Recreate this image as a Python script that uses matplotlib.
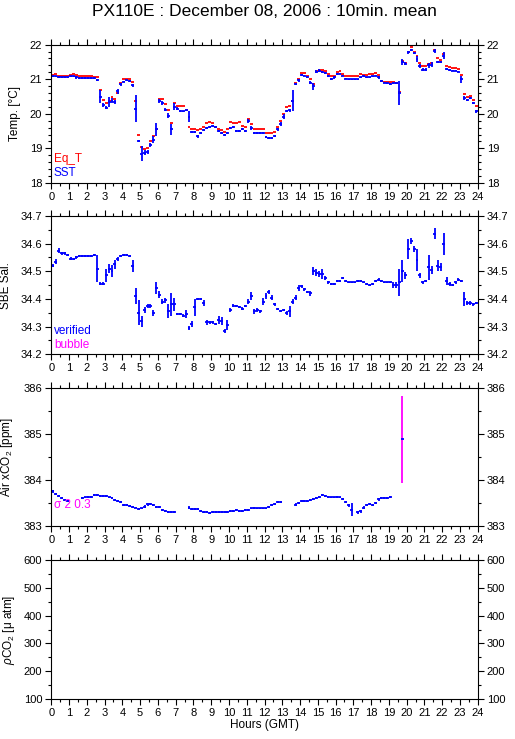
import numpy as np
import matplotlib
matplotlib.use('Agg')
import matplotlib.pyplot as plt
from matplotlib.ticker import MultipleLocator

plt.rcParams['font.family'] = ['Liberation Sans', 'DejaVu Sans']
plt.rcParams['mathtext.fontset'] = 'custom'
plt.rcParams['mathtext.rm'] = 'Liberation Sans'
plt.rcParams['mathtext.it'] = 'Liberation Sans:italic'

# 10 minute means, 6 values per hour (hour 0 .. 23)
sst = [21.08, 21.08, 21.06, 21.05, 21.05, 21.05,
       21.08, 21.08, 21.05, 21.04, 21.04, 21.03,
       21.03, 21.03, 21.03, 20.97, 20.50, 20.25,
       20.18, 20.35, 20.38, 20.33, 20.65, 20.85,
       20.93, 20.97, 20.95, 20.82, 20.15, 19.22,
       18.85, 18.88, 18.90, 19.10, 19.25, 19.55,
       20.38, 20.32, 20.12, 19.95, 19.55, 20.20,
       20.15, 20.08, 20.07, 20.10, 19.92, 19.48,
       19.48, 19.35, 19.45, 19.52, 19.58, 19.62,
       19.65, 19.62, 19.50, 19.45, 19.40, 19.45,
       19.60, 19.62, 19.50, 19.50, 19.55, 19.50,
       19.80, 19.60, 19.45, 19.45, 19.45, 19.45,
       19.33, 19.30, 19.30, 19.35, 19.55, 19.70,
       19.92, 20.08, 20.10, 20.38, 20.85, 20.97,
       21.12, 21.10, 21.05, 20.90, 20.80, 21.22,
       21.25, 21.20, 21.18, 21.10, 21.00, 21.05,
       21.15, 21.16, 21.10, 21.02, 21.00, 21.00,
       21.00, 21.00, 21.05, 21.08, 21.05, 21.05,
       21.08, 21.10, 21.05, 20.95, 20.90, 20.88,
       20.85, 20.88, 20.88, 20.60, 21.50, 21.45,
       21.78, 21.85, 21.75, 21.58, 21.38, 21.28,
       21.28, 21.40, 21.42, 21.82, 21.50, 21.50,
       21.68, 21.30, 21.27, 21.25, 21.25, 21.22,
       21.00, 20.45, 20.40, 20.45, 20.30, 20.07]
sst_sd = [0.02, 0.02, 0.02, 0.02, 0.02, 0.02,
          0.02, 0.02, 0.03, 0.02, 0.02, 0.02,
          0.02, 0.02, 0.02, 0.03, 0.18, 0.05,
          0.04, 0.15, 0.08, 0.06, 0.08, 0.04,
          0.02, 0.02, 0.02, 0.05, 0.38, 0.03,
          0.22, 0.08, 0.06, 0.05, 0.10, 0.18,
          0.06, 0.06, 0.04, 0.06, 0.15, 0.10,
          0.05, 0.02, 0.02, 0.02, 0.15, 0.03,
          0.03, 0.04, 0.03, 0.03, 0.03, 0.02,
          0.02, 0.02, 0.03, 0.03, 0.03, 0.03,
          0.03, 0.02, 0.02, 0.02, 0.03, 0.02,
          0.06, 0.06, 0.02, 0.02, 0.02, 0.02,
          0.02, 0.02, 0.02, 0.03, 0.05, 0.05,
          0.06, 0.03, 0.05, 0.30, 0.03, 0.05,
          0.03, 0.02, 0.02, 0.04, 0.10, 0.04,
          0.04, 0.03, 0.03, 0.03, 0.03, 0.03,
          0.03, 0.02, 0.02, 0.02, 0.02, 0.02,
          0.02, 0.02, 0.02, 0.03, 0.02, 0.02,
          0.02, 0.02, 0.03, 0.03, 0.02, 0.02,
          0.03, 0.02, 0.02, 0.35, 0.08, 0.05,
          0.04, 0.03, 0.03, 0.08, 0.05, 0.03,
          0.03, 0.08, 0.08, 0.05, 0.03, 0.03,
          0.10, 0.03, 0.02, 0.02, 0.02, 0.02,
          0.10, 0.06, 0.03, 0.03, 0.03, 0.05]
eq_t = [21.12, 21.14, 21.10, 21.10, 21.10, 21.10,
        21.12, 21.14, 21.12, 21.10, 21.10, 21.10,
        21.10, 21.08, 21.07, 21.05, 20.68, 20.40,
        20.30, 20.38, 20.50, 20.42, 20.60, 20.90,
        21.02, 21.02, 21.02, 20.92, 20.38, 19.40,
        19.05, 18.98, 19.00, 19.20, 19.35, 19.55,
        20.42, 20.42, 20.28, 20.10, 19.72, 20.30,
        20.22, 20.22, 20.22, 20.12, 19.62, 19.55,
        19.55, 19.52, 19.55, 19.62, 19.72, 19.75,
        19.72, 19.62, 19.55, 19.52, 19.48, 19.55,
        19.75, 19.72, 19.72, 19.75, 19.65, 19.62,
        19.85, 19.70, 19.57, 19.57, 19.55, 19.55,
        19.45, 19.45, 19.45, 19.48, 19.62, 19.80,
        20.00, 20.20, 20.22, 20.38, 20.88, 21.02,
        21.18, 21.18, 21.10, 21.02, 20.85, 21.25,
        21.28, 21.26, 21.25, 21.16, 21.08, 21.10,
        21.22, 21.24, 21.14, 21.08, 21.08, 21.08,
        21.08, 21.10, 21.14, 21.12, 21.12, 21.15,
        21.16, 21.18, 21.12, 20.95, 20.92, 20.92,
        20.92, 20.92, 20.90, 20.62, 21.52, 21.48,
        21.80, 21.92, 21.80, 21.68, 21.48, 21.38,
        21.38, 21.45, 21.48, 21.85, 21.62, 21.55,
        21.72, 21.38, 21.36, 21.32, 21.32, 21.30,
        21.12, 20.58, 20.50, 20.52, 20.40, 20.22]

sal = [34.520, 34.535, 34.575, 34.565, 34.565, 34.560,
       34.545, 34.545, 34.550, 34.555, 34.555, 34.555,
       34.555, 34.555, 34.560, 34.510, 34.455, 34.455,
       34.485, 34.510, 34.500, 34.525, 34.545, 34.555,
       34.560, 34.560, 34.555, 34.520, 34.410, 34.350,
       34.320, 34.360, 34.375, 34.375, 34.350, 34.440,
       34.415, 34.390, 34.395, 34.355, 34.380, 34.380,
       34.345, 34.345, 34.340, 34.345, 34.295, 34.310,
       34.370, 34.400, 34.400, 34.385, 34.315, 34.315,
       34.315, 34.310, 34.325, 34.320, 34.285, 34.305,
       34.360, 34.375, 34.375, 34.370, 34.365, 34.375,
       34.390, 34.410, 34.355, 34.360, 34.355, 34.390,
       34.410, 34.425, 34.405, 34.380, 34.365, 34.355,
       34.360, 34.350, 34.355, 34.390, 34.405, 34.440,
       34.445, 34.435, 34.425, 34.420, 34.500, 34.495,
       34.490, 34.490, 34.475, 34.460, 34.455, 34.455,
       34.465, 34.465, 34.475, 34.465, 34.460, 34.460,
       34.460, 34.465, 34.465, 34.460, 34.455, 34.450,
       34.455, 34.465, 34.470, 34.465, 34.460, 34.460,
       34.460, 34.450, 34.450, 34.460, 34.500, 34.485,
       34.580, 34.610, 34.580, 34.540, 34.485, 34.460,
       34.465, 34.515, 34.505, 34.635, 34.520, 34.515,
       34.600, 34.465, 34.455, 34.450, 34.460, 34.470,
       34.465, 34.400, 34.385, 34.385, 34.380, 34.385]
sal_sd = [0.005, 0.008, 0.010, 0.005, 0.005, 0.004,
          0.005, 0.004, 0.004, 0.003, 0.003, 0.003,
          0.003, 0.003, 0.003, 0.050, 0.006, 0.006,
          0.025, 0.015, 0.022, 0.015, 0.008, 0.005,
          0.003, 0.003, 0.004, 0.022, 0.030, 0.045,
          0.020, 0.012, 0.008, 0.008, 0.010, 0.022,
          0.012, 0.010, 0.008, 0.025, 0.042, 0.025,
          0.004, 0.004, 0.005, 0.015, 0.006, 0.010,
          0.030, 0.005, 0.005, 0.010, 0.010, 0.006,
          0.005, 0.004, 0.015, 0.015, 0.008, 0.018,
          0.008, 0.005, 0.004, 0.004, 0.005, 0.004,
          0.010, 0.015, 0.008, 0.006, 0.005, 0.012,
          0.010, 0.006, 0.008, 0.006, 0.004, 0.004,
          0.004, 0.008, 0.020, 0.008, 0.010, 0.010,
          0.006, 0.005, 0.005, 0.010, 0.015, 0.012,
          0.012, 0.018, 0.008, 0.005, 0.004, 0.004,
          0.004, 0.004, 0.004, 0.004, 0.003, 0.003,
          0.003, 0.003, 0.003, 0.003, 0.004, 0.004,
          0.004, 0.004, 0.004, 0.004, 0.003, 0.003,
          0.003, 0.010, 0.010, 0.050, 0.040, 0.012,
          0.035, 0.010, 0.010, 0.040, 0.010, 0.005,
          0.005, 0.045, 0.015, 0.020, 0.020, 0.015,
          0.040, 0.015, 0.008, 0.005, 0.005, 0.005,
          0.005, 0.025, 0.006, 0.006, 0.004, 0.004]

nan = np.nan
air_co2 = [383.75, 383.70, 383.65, 383.60, 383.57, 383.55,
           nan, nan, nan, nan, 383.60, 383.62,
           383.63, 383.63, 383.67, 383.67, 383.65, 383.66,
           383.65, 383.62, 383.60, 383.57, 383.55, 383.52,
           383.45, 383.45, 383.44, 383.42, 383.40, 383.37,
           383.38, 383.42, 383.47, 383.47, 383.45, 383.42,
           383.42, 383.35, 383.32, 383.30, 383.30, 383.30,
           nan, nan, nan, nan, 383.40, 383.37,
           383.36, 383.37, 383.33, 383.30, 383.30, 383.28,
           383.30, 383.30, 383.30, 383.30, 383.30, 383.30,
           383.32, 383.33, 383.35, 383.33, 383.33, 383.34,
           383.35, 383.38, 383.39, 383.38, 383.38, 383.38,
           383.38, 383.42, 383.45, 383.48, 383.52, 383.52,
           nan, nan, nan, nan, 383.46, 383.50,
           383.55, 383.55, 383.55, 383.56, 383.58, 383.60,
           383.63, 383.67, 383.65, 383.63, 383.62, 383.62,
           383.63, 383.62, 383.58, 383.52, 383.45, 383.35,
           nan, 383.30, 383.32, 383.40, 383.45, 383.47,
           383.45, 383.50, 383.58, 383.60, 383.60, 383.60,
           383.63, nan, nan, nan, 384.88, nan] + [nan] * 24
air_sd = [0.03, 0.02, 0.02, 0.02, 0.02, 0.02,
          nan, nan, nan, nan, 0.02, 0.02,
          0.02, 0.02, 0.02, 0.02, 0.02, 0.02,
          0.02, 0.02, 0.02, 0.02, 0.02, 0.02,
          0.02, 0.02, 0.02, 0.02, 0.02, 0.02,
          0.02, 0.03, 0.03, 0.02, 0.02, 0.02,
          0.02, 0.02, 0.02, 0.02, 0.02, 0.02,
          nan, nan, nan, nan, 0.03, 0.02,
          0.02, 0.02, 0.02, 0.02, 0.02, 0.02,
          0.02, 0.02, 0.02, 0.02, 0.02, 0.02,
          0.02, 0.02, 0.02, 0.02, 0.02, 0.02,
          0.02, 0.02, 0.02, 0.02, 0.02, 0.02,
          0.02, 0.02, 0.02, 0.02, 0.02, 0.02,
          nan, nan, nan, nan, 0.03, 0.02,
          0.02, 0.02, 0.02, 0.02, 0.02, 0.02,
          0.02, 0.02, 0.02, 0.02, 0.02, 0.02,
          0.02, 0.02, 0.02, 0.03, 0.03, 0.14,
          nan, 0.03, 0.03, 0.03, 0.02, 0.02,
          0.02, 0.02, 0.03, 0.02, 0.02, 0.02,
          0.02, nan, nan, nan, 0.95, nan] + [nan] * 24

hours = np.arange(144) / 6.0 + 1.0 / 12
half = 1.0 / 12

fig = plt.figure(figsize=(5.15, 7.39), dpi=100)
left, width = 0.0996, 0.828
bottoms = [0.7524, 0.5206, 0.2882, 0.0545]
height = 0.1872
axes = [fig.add_axes([left, b, width, height]) for b in bottoms]

lw = 1.3
red, blue, mag = '#ff0000', '#0000ff', '#ff00ff'

# panel 1: temperatures
ax = axes[0]
ax.hlines(eq_t, hours - half, hours + half, color=red, lw=lw)
ax.hlines(sst, hours - half, hours + half, color=blue, lw=lw)
ax.vlines(hours, np.array(sst) - np.array(sst_sd), np.array(sst) + np.array(sst_sd), color=blue, lw=lw)
ax.set_ylim(18, 22)
ax.yaxis.set_major_locator(MultipleLocator(1))
ax.yaxis.set_minor_locator(MultipleLocator(0.2))
ax.set_ylabel('Temp. [°C]', fontsize=8.5)
ax.yaxis.set_label_coords(-0.07, 0.5)
ax.text(0.006, 0.17, 'Eq_T', color=red, fontsize=8.5, transform=ax.transAxes, va='center')
ax.text(0.006, 0.07, 'SST', color=blue, fontsize=8.5, transform=ax.transAxes, va='center')

# panel 2: salinity
ax = axes[1]
ax.hlines(sal, hours - half, hours + half, color=blue, lw=lw)
ax.vlines(hours, np.array(sal) - np.array(sal_sd), np.array(sal) + np.array(sal_sd), color=blue, lw=lw)
ax.set_ylim(34.2, 34.7)
ax.yaxis.set_major_locator(MultipleLocator(0.1))
ax.yaxis.set_minor_locator(MultipleLocator(0.05))
ax.set_ylabel('SBE Sal.', fontsize=8.5)
ax.yaxis.set_label_coords(-0.093, 0.5)
ax.text(0.006, 0.165, 'verified', color=blue, fontsize=8.5, transform=ax.transAxes, va='center')
ax.text(0.006, 0.07, 'bubble', color=mag, fontsize=8.5, transform=ax.transAxes, va='center')

# panel 3: air xCO2
ax = axes[2]
co2 = np.array(air_co2)
co2_sd = np.array(air_sd)
bar_col = [mag if s >= 0.3 else blue for s in np.nan_to_num(co2_sd)]
ax.vlines(hours, co2 - co2_sd, co2 + co2_sd, colors=bar_col, lw=lw)
ax.hlines(co2, hours - half, hours + half, color=blue, lw=lw)
ax.set_ylim(383, 386)
ax.yaxis.set_major_locator(MultipleLocator(1))
ax.yaxis.set_minor_locator(MultipleLocator(0.5))
ax.set_ylabel('Air xCO$_2$ [ppm]', fontsize=8.5)
ax.yaxis.set_label_coords(-0.085, 0.5)
ax.text(0.006, 0.155, 'σ 2 0.3', color=mag, fontsize=8.5, transform=ax.transAxes, va='center')

# panel 4: pCO2 (no data)
ax = axes[3]
ax.set_ylim(100, 600)
ax.yaxis.set_major_locator(MultipleLocator(100))
ax.yaxis.set_minor_locator(MultipleLocator(50))
ax.set_ylabel(r'$\rho$CO$_2$ [μ atm]', fontsize=8.5)
ax.yaxis.set_label_coords(-0.08, 0.5)
ax.set_xlabel('Hours (GMT)', fontsize=8.5, labelpad=1)

for ax in axes:
    ax.set_xlim(0, 24)
    ax.set_xticks(range(25))
    ax.xaxis.set_minor_locator(MultipleLocator(0.5))
    ax.tick_params(axis='both', which='both', direction='out', top=True, right=True,
                   labelright=True, labelsize=8, width=0.8, pad=2)
    ax.tick_params(axis='x', which='major', length=4.5)
    ax.tick_params(axis='x', which='minor', length=2.2)
    ax.tick_params(axis='y', which='major', length=4.5)
    ax.tick_params(axis='y', which='minor', length=2.2)
    for sp in ax.spines.values():
        sp.set_linewidth(0.8)

fig.text(0.514, 0.984, 'PX110E : December 08, 2006 : 10min. mean', ha='center', va='center', fontsize=12.5)

fig.savefig('out.png', dpi=100)
